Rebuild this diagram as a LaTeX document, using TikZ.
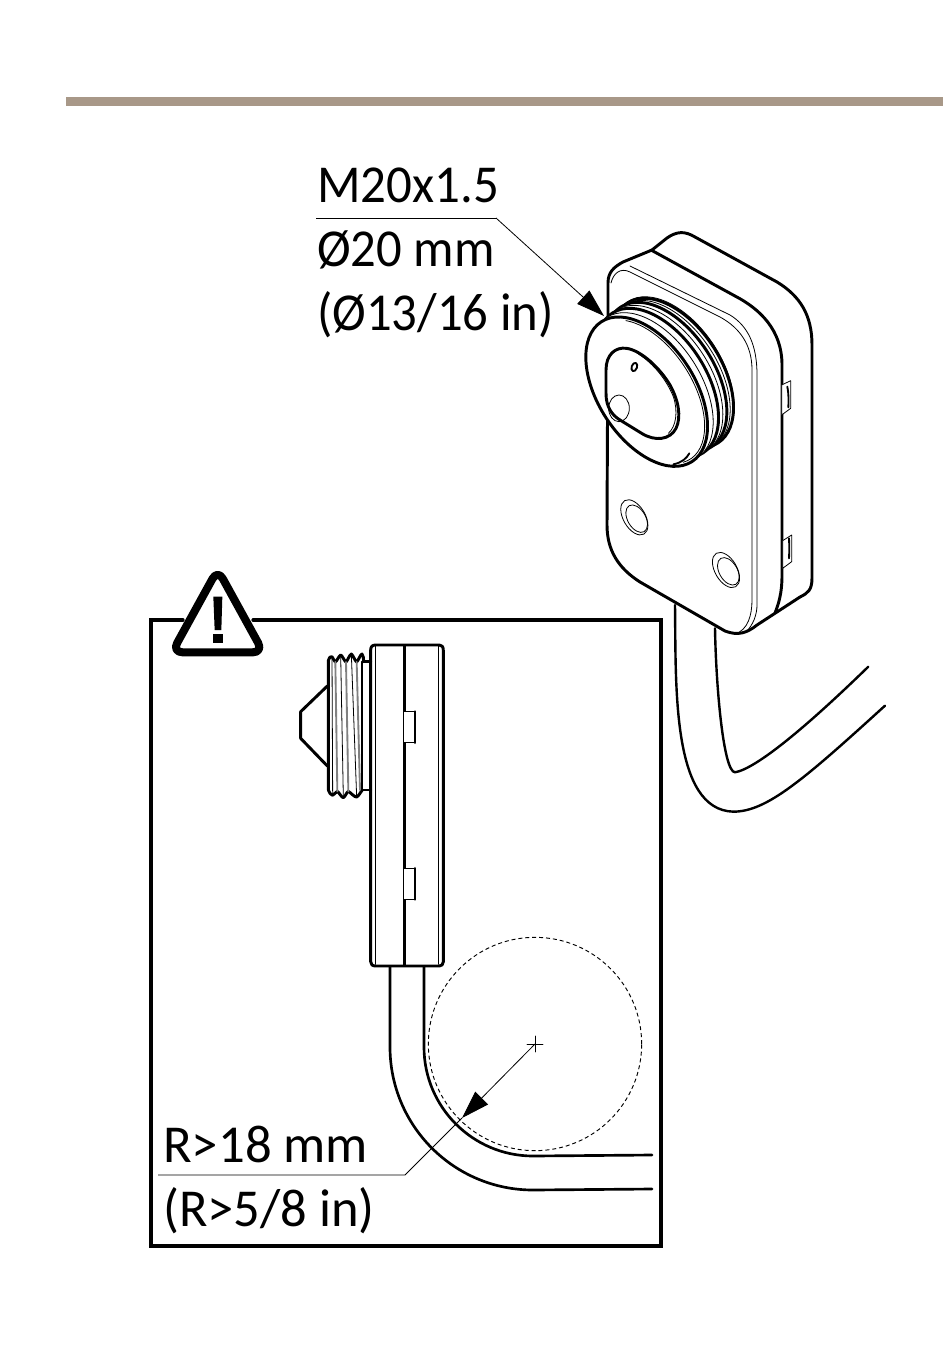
\documentclass[tikz,border=0pt]{standalone}
\usepackage{graphicx}
\usepackage{fontspec}
\setmainfont{Carlito}
\usetikzlibrary{arrows.meta}
\definecolor{barcol}{HTML}{A89888}
\tikzset{
 heavy/.style={line width=2.2pt,line cap=round,line join=round},
 medium/.style={line width=1.4pt,line cap=round,line join=round},
 fine/.style={line width=.6pt,line cap=round,line join=round},
 leader/.style={line width=.6pt},
 frame/.style={line width=2.4pt,line cap=round,line join=miter},
 lbl/.style={inner sep=0pt,anchor=base west,font=\fontsize{40}{40}\selectfont},
 bigtip/.style={-{Triangle[length=21pt,width=13.5pt]}},
 zoomA/.style={shift={(570,220)},x=.25pt,y=-.25pt},
 zoomB/.style={shift={(590,470)},x=.25pt,y=-.25pt},
 zoomC/.style={shift={(280,630)},x=.25pt,y=-.25pt},
 zoomW/.style={shift={(140,570)},x=.25pt,y=-.25pt},
 lensface/.style={fill=white,rotate around={33:(#1)}},
}
\begin{document}
\begin{tikzpicture}[x=.75pt,y=-.75pt]
\useasboundingbox (0,0) rectangle (950,1348);
\fill[barcol] (66,97) rectangle (943,106);
% labels
\node[lbl] (t1) at (317,203) {\scalebox{.955}[1]{M20x1.5}};
\node[lbl] (t2) at (317,267) {\scalebox{.95}[1]{Ø20 mm}};
\node[lbl] (t3) at (317,330) {\scalebox{.95}[1]{(Ø13/16 in)}};
\node[lbl] (t4) at (163,1162) {\scalebox{.99}[1]{R>18 mm}};
\node[lbl] (t5) at (163,1226) {\scalebox{.985}[1]{(R>5/8 in)}};
% upper camera: cable
\begin{scope}[zoomB]
\draw[medium,line width=1.8pt] (255,405) .. controls (258,650) and (245,1020) .. (430,1025) .. controls (530,1025) and (640,930) .. (885,707);
\draw[medium,line width=1.8pt] (375,475) .. controls (378,650) and (400,905) .. (435,907) .. controls (500,895) and (650,770) .. (835,590);
\end{scope}
% upper camera: body
\draw[heavy,fill=white] (608,310) -- (608,283) .. controls (608,272) and (614,267) .. (623,262) -- (652,250) -- (667,238) .. controls (677,231) and (685,231) .. (695,237) -- (777,282) .. controls (800,296) and (812,315) .. (812,345) -- (812,578) .. controls (812,590) and (808,593) .. (800,597) -- (757,625) .. controls (747,633) and (738,636) .. (725,631) -- (640,582) .. controls (618,568) and (607,550) .. (607,525) -- cycle;
\draw[heavy] (651,250) -- (735,296) .. controls (760,309) and (782,330) .. (782,365) -- (782,575) .. controls (782,595) and (778,605) .. (775,613);
\draw[fine] (611,283) .. controls (613,274) and (620,267) .. (630,272) -- (720,317) .. controls (740,328) and (752,345) .. (752,370) -- (752,600) .. controls (752,615) and (748,630) .. (735,634);
\draw[fine] (630,266) -- (730,315) .. controls (748,326) and (757,345) .. (757,375) -- (757,605) .. controls (757,615) and (753,625) .. (746,632);
% upper camera: side tabs and screw holes
\begin{scope}[zoomA]
\draw[fine,fill=white] (635,495) -- (662,482) -- (662,565) -- (635,585) -- cycle;
\draw[medium] (652,500) .. controls (656,520) and (656,540) .. (655,562);
\end{scope}
\begin{scope}[zoomB]
\draw[fine,fill=white] (578,212) -- (605,195) -- (605,275) -- (578,295) -- cycle;
\draw[medium] (597,205) .. controls (598,225) and (598,245) .. (597,265);
\draw[fine,rotate around={30:(133,142)}] (133,142) ellipse [x radius=33,y radius=58];
\draw[fine,rotate around={30:(140,146)}] (140,146) ellipse [x radius=27,y radius=45];
\draw[fine,rotate around={30:(408,300)}] (408,300) ellipse [x radius=33,y radius=58];
\draw[fine,rotate around={30:(415,304)}] (415,304) ellipse [x radius=27,y radius=45];
\end{scope}
% upper camera: threaded barrel, back to front
\begin{scope}[zoomA]
\draw[fine,lensface={308,459}] (312,456) ellipse [x radius=145,y radius=250];
\draw[heavy,lensface={308,459}] (308,459) ellipse [x radius=145,y radius=250];
\draw[fine,lensface={298,465}] (298,465) ellipse [x radius=145,y radius=250];
\draw[heavy,lensface={288,471}] (288,471) ellipse [x radius=145,y radius=250];
\draw[fine,lensface={276,480}] (276,480) ellipse [x radius=145,y radius=250];
\draw[heavy,lensface={263,489}] (263,489) ellipse [x radius=145,y radius=250];
\draw[fine,lensface={247,502}] (247,502) ellipse [x radius=145,y radius=250];
\draw[heavy,lensface={230,515}] (230,515) ellipse [x radius=145,y radius=250];
\begin{scope}[shift={(230,515)},rotate=33]
\draw[fine] (100:136 and 241) arc[start angle=100,end angle=-62,x radius=136,y radius=241];
\end{scope}
\draw[medium] (310,733) .. controls (335,728) and (350,715) .. (358,700);
% inner lens
\draw[heavy] (108,520) -- (108,450) .. controls (108,405) and (135,380) .. (170,385) .. controls (215,392) and (270,445) .. (300,495) .. controls (325,540) and (335,590) .. (318,625) .. controls (300,660) and (255,665) .. (215,640) -- (150,600) .. controls (125,585) and (108,560) .. (108,520) -- cycle;
\draw[fine] (205,402) .. controls (250,430) and (290,480) .. (310,530) .. controls (325,575) and (318,620) .. (295,640);
\draw[fine] (147,565) ellipse [x radius=31,y radius=40];
\draw[medium,rotate around={-20:(193,441)}] (193,441) ellipse [x radius=8,y radius=13];
\end{scope}
% upper leader
\coordinate (ulA) at (316,218);
\coordinate (ulB) at (496,218);
\coordinate (ulTip) at (604,316);
\draw[leader] (ulA) -- (ulB);
\draw[leader,bigtip] (ulB) -- (ulTip);
% frame with warning sign
\draw[frame] (183,620) -- (151,620) -- (151,1246) -- (661,1246) -- (661,620) -- (253,620);
\begin{scope}[zoomW]
\draw[line width=6pt,line join=round,rounded corners=8pt,fill=white] (233,-2) -- (96,247) -- (370,247) -- cycle;
\fill (220,80) -- (247,80) -- (244,180) -- (224,180) -- cycle;
\fill (218,191) rectangle (249,220);
\end{scope}
% side view: cable and bend
\draw[line width=2pt,line cap=round] (390,966) -- (390,1047) arc[start angle=180,end angle=90,radius=143] -- (652,1189);
\draw[line width=2pt,line cap=round] (424,966) -- (424,1047) arc[start angle=180,end angle=90,radius=109] -- (652,1155);
% side view: body
\begin{scope}[zoomC]
\draw[heavy,fill=white] (272,60) .. controls (272,50) and (277,45) .. (287,45) -- (478,45) .. controls (486,45) and (490,50) .. (490,62) -- (490,995) .. controls (490,1003) and (485,1008) .. (478,1008) -- (287,1008) .. controls (277,1008) and (272,1003) .. (272,995) -- cycle;
\draw[line width=2.6pt] (373,45) -- (373,1008);
\draw[fine] (285,48) -- (285,1003);
\draw[fine] (475,48) -- (475,1003);
\draw[fine,fill=white] (372,245) -- (405,245) -- (405,338) -- (372,338);
\draw[heavy] (405,245) -- (405,338);
\fill[white] (369,258) rectangle (375,325);
\draw[fine] (370,258) -- (370,325);
\draw[fine,fill=white] (372,715) -- (405,715) -- (405,808) -- (372,808);
\draw[heavy] (405,715) -- (405,808);
\fill[white] (369,728) rectangle (375,795);
\draw[fine] (370,728) -- (370,795);
% neck
\draw[heavy] (250,95) -- (272,95);
\draw[heavy] (250,480) -- (272,480);
\draw[medium] (247,95) -- (247,480);
% thread
\draw[heavy] (145,480) -- (145,92) .. controls (148,82) and (152,78) .. (156,80) .. controls (160,84) and (162,94) .. (166,96) .. controls (172,92) and (176,78) .. (182,75) .. controls (188,78) and (192,92) .. (198,96) .. controls (204,90) and (208,75) .. (214,72) .. controls (220,76) and (224,92) .. (230,96) .. controls (236,90) and (240,75) .. (246,72) .. controls (250,76) and (251,85) .. (251,95);
\draw[heavy] (145,480) .. controls (148,488) and (152,495) .. (158,496) .. controls (164,494) and (168,484) .. (172,484) .. controls (178,488) and (184,502) .. (190,503) .. controls (196,500) and (200,486) .. (205,484) .. controls (212,488) and (224,502) .. (230,501) .. controls (236,498) and (242,486) .. (247,480);
\draw[medium,gray] (166,96) -- (172,484);
\draw[medium,gray] (198,96) -- (205,484);
\draw[medium,gray] (230,96) -- (240,480);
\draw[fine] (156,80) -- (158,496);
\draw[fine] (182,75) -- (190,503);
\draw[fine] (214,72) -- (230,501);
% lens cone
\draw[heavy] (142,168) -- (62,245) -- (62,325) -- (142,408);
\end{scope}
% bend radius
\coordinate (cc) at (535,1044);
\coordinate (rTip) at (462,1118);
\coordinate (rK) at (405,1175);
\coordinate (rL) at (158,1175);
\draw[line width=.7pt,dash pattern=on 3pt off 2.2pt] (cc) circle[radius=80pt];
\draw[fine] (527,1044) -- (543,1044) (535,1036) -- (535,1052);
\draw[leader,bigtip] (cc) -- (rTip);
\draw[leader] (rTip) -- (rK) -- (rL);
\end{tikzpicture}
\end{document}
